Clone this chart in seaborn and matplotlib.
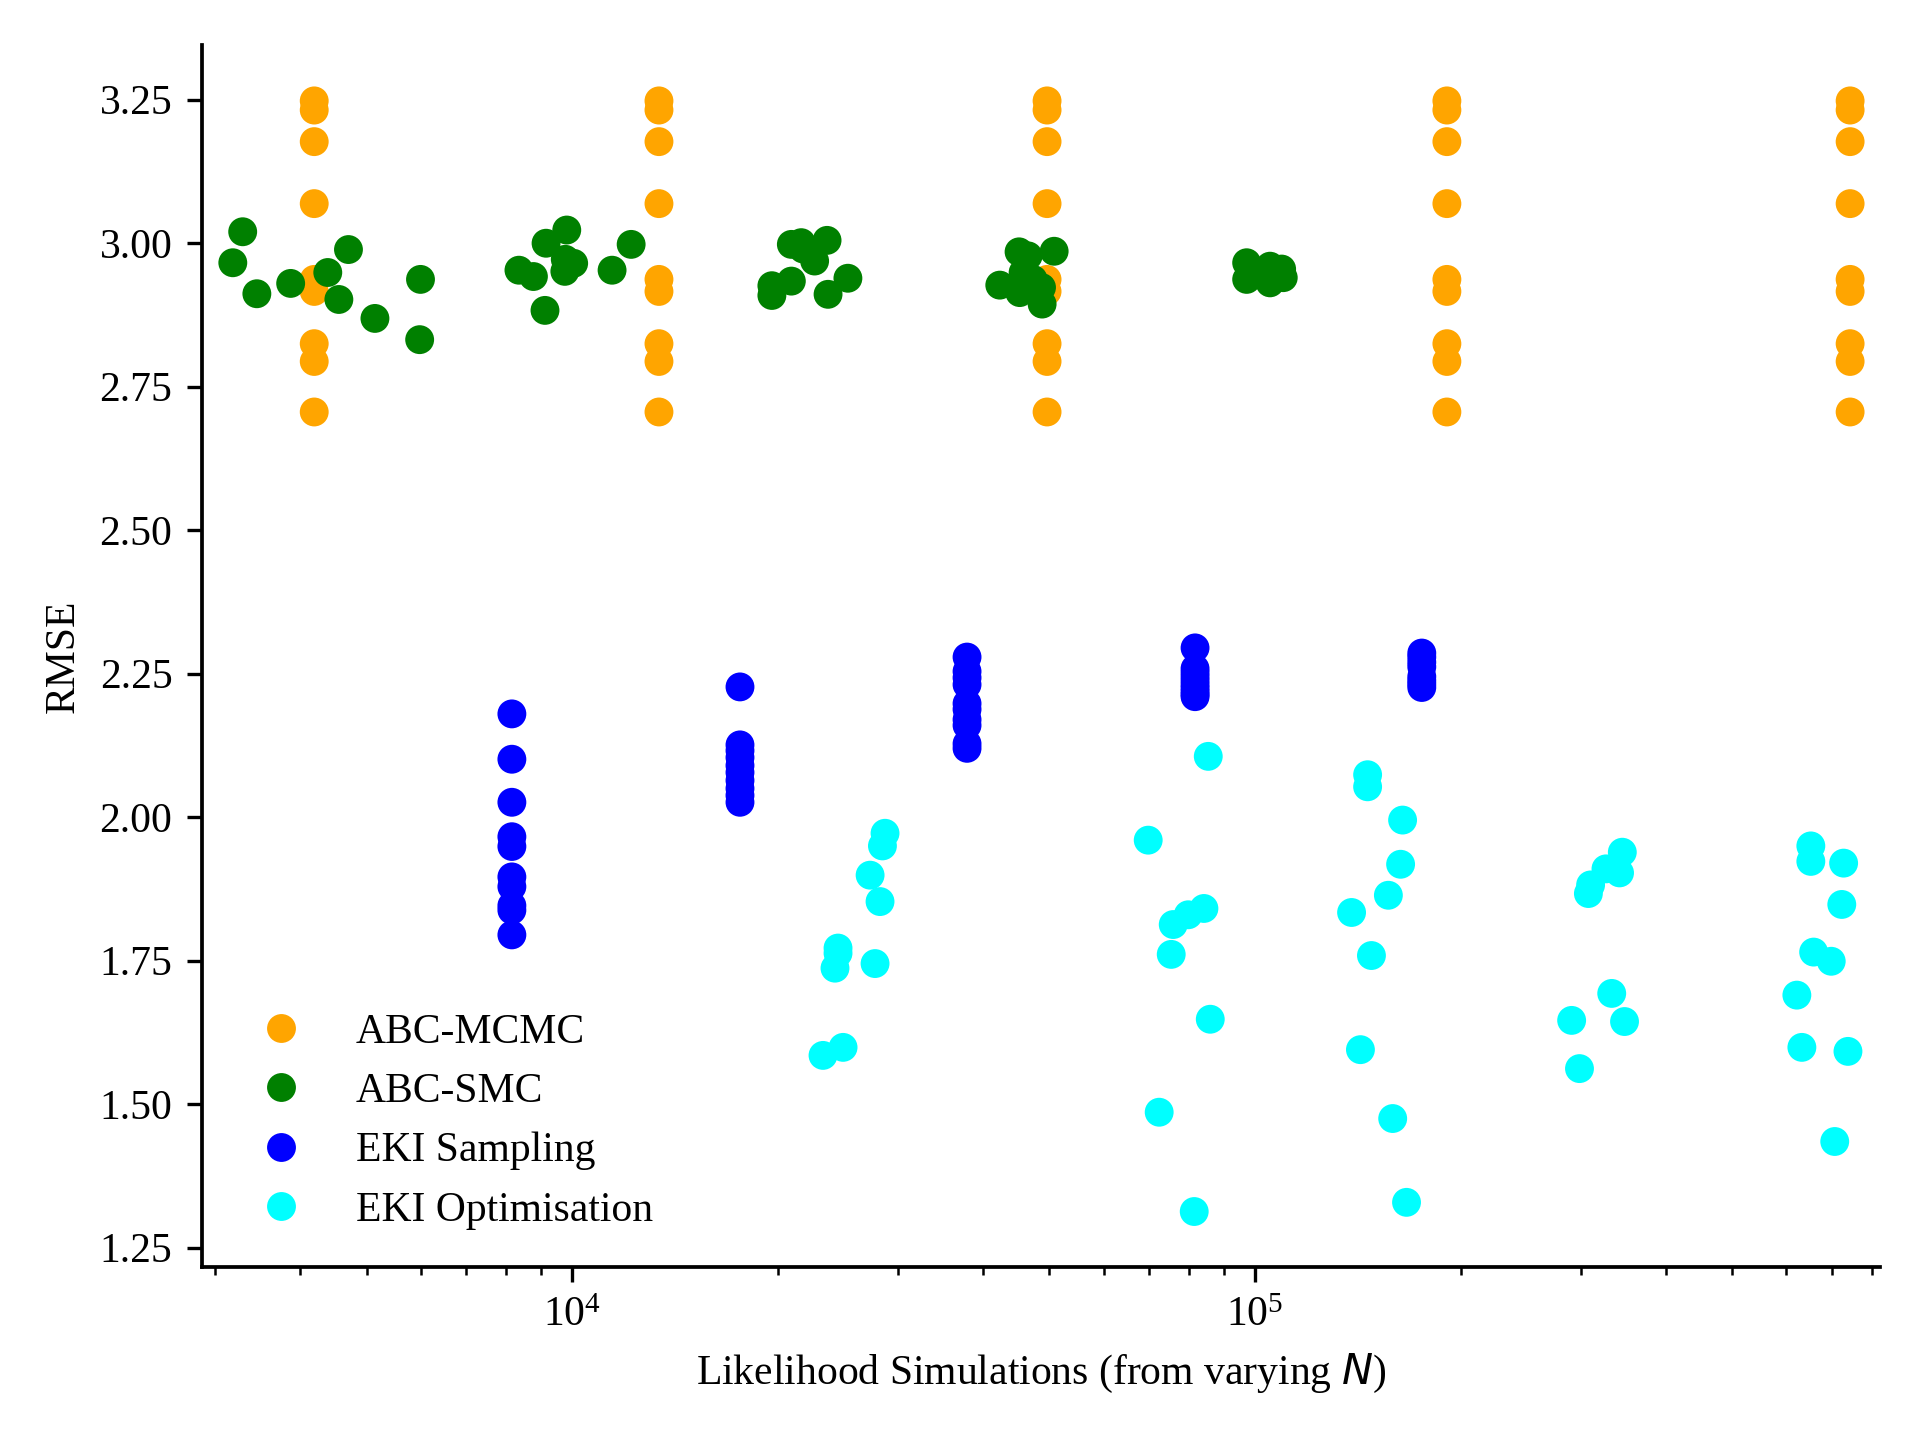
import numpy as np
import pandas as pd
import seaborn as sns
import matplotlib.pyplot as plt

# RMSE against number of likelihood simulations

# ABC-MCMC: same set of RMSE values at every budget
mcmc_sims = [4190, 13400, 49600, 191000, 744000]
mcmc_rmse = [3.248, 3.232, 3.177, 3.069, 2.937, 2.916, 2.825, 2.794, 2.706]

# ABC-SMC
smc_sims = [3292, 3184, 3453, 3870, 4386, 4703, 4553, 5142, 5996, 5979,
            8357, 8775, 9157, 9819, 9770, 10050, 9756, 9124, 11440, 12200,
            19610, 19610, 20940, 20940, 21650, 23620, 22650, 23700, 25340, 21780,
            45130, 46530, 50800, 42290, 46280, 48680, 48780, 45750, 47320, 45230,
            97230, 97230, 105200, 109400, 105200, 101700, 110000]
smc_rmse = [3.020, 2.966, 2.912, 2.930, 2.949, 2.989, 2.902, 2.869, 2.937, 2.832,
            2.953, 2.942, 3.000, 3.023, 2.972, 2.965, 2.951, 2.883, 2.953, 2.998,
            2.926, 2.909, 2.934, 2.998, 3.001, 3.005, 2.969, 2.911, 2.939, 2.990,
            2.985, 2.978, 2.986, 2.927, 2.929, 2.923, 2.894, 2.949, 2.937, 2.914,
            2.966, 2.937, 2.931, 2.955, 2.960, 2.949, 2.940]

# EKI sampling: one column per budget
eki_s_sims = [8160, 17610, 37870, 81700, 175500]
eki_s_rmse = [
    [2.180, 2.101, 2.026, 1.966, 1.949, 1.896, 1.879, 1.846, 1.838, 1.795],
    [2.227, 2.126, 2.116, 2.104, 2.090, 2.078, 2.064, 2.050, 2.038, 2.026],
    [2.279, 2.254, 2.243, 2.231, 2.198, 2.188, 2.170, 2.160, 2.128, 2.120],
    [2.295, 2.259, 2.252, 2.245, 2.238, 2.231, 2.225, 2.219, 2.214, 2.210],
    [2.286, 2.279, 2.270, 2.262, 2.245, 2.238, 2.232, 2.226],
]

# EKI optimisation
eki_o_sims = [28720, 28470, 27310, 28240, 24510, 24510, 24260, 27770, 24930, 23300,
              85420, 69760, 84180, 79840, 75900, 75390, 86000, 72390, 81470,
              146200, 146200, 164500, 163400, 156800, 138500, 148100, 142700, 159100, 166700,
              345100, 341900, 326600, 310100, 307800, 333000, 290900, 347700, 298700,
              651700, 651700, 727900, 723400, 657900, 698100, 621700, 632300, 738600, 706400]
eki_o_rmse = [1.972, 1.950, 1.899, 1.853, 1.772, 1.763, 1.737, 1.745, 1.599, 1.585,
              2.106, 1.960, 1.841, 1.830, 1.813, 1.761, 1.648, 1.486, 1.313,
              2.074, 2.053, 1.995, 1.918, 1.864, 1.834, 1.759, 1.595, 1.475, 1.329,
              1.939, 1.903, 1.910, 1.882, 1.867, 1.693, 1.646, 1.644, 1.562,
              1.950, 1.923, 1.920, 1.848, 1.765, 1.749, 1.690, 1.599, 1.592, 1.435]

methods = ['ABC-MCMC', 'ABC-SMC', 'EKI Sampling', 'EKI Optimisation']
colours = ['orange', 'green', 'blue', 'cyan']

rows = []
for n in mcmc_sims:
    for r in mcmc_rmse:
        rows.append(('ABC-MCMC', n, r))
for n, r in zip(smc_sims, smc_rmse):
    rows.append(('ABC-SMC', n, r))
for n, col in zip(eki_s_sims, eki_s_rmse):
    for r in col:
        rows.append(('EKI Sampling', n, r))
for n, r in zip(eki_o_sims, eki_o_rmse):
    rows.append(('EKI Optimisation', n, r))
df = pd.DataFrame(rows, columns=['method', 'sims', 'rmse'])

plt.rcParams['font.family'] = 'serif'
plt.rcParams['font.serif'] = ['Liberation Serif', 'DejaVu Serif']
plt.rcParams['font.size'] = 10
plt.rcParams['axes.linewidth'] = 0.9

fig, ax = plt.subplots(figsize=(6.4, 4.8), dpi=300)
fig.subplots_adjust(left=0.105, right=0.979, top=0.969, bottom=0.120)

sns.scatterplot(data=df, x='sims', y='rmse', hue='method', hue_order=methods,
                palette=colours, s=48, linewidth=0, alpha=1, ax=ax)
ax.set_xscale('log')
ax.set_xlim(2866, 822000)
ax.set_ylim(1.216, 3.346)
ax.set_yticks(np.arange(1.25, 3.26, 0.25))
ax.set_yticklabels(['%.2f' % v for v in np.arange(1.25, 3.26, 0.25)])

ax.set_xlabel('Likelihood Simulations (from varying $N$)')
ax.set_ylabel('RMSE')
sns.despine(ax=ax)

handles, labels = ax.get_legend_handles_labels()
ax.legend(handles, labels, loc='lower left', frameon=False)

fig.savefig('out.png', dpi=300)
